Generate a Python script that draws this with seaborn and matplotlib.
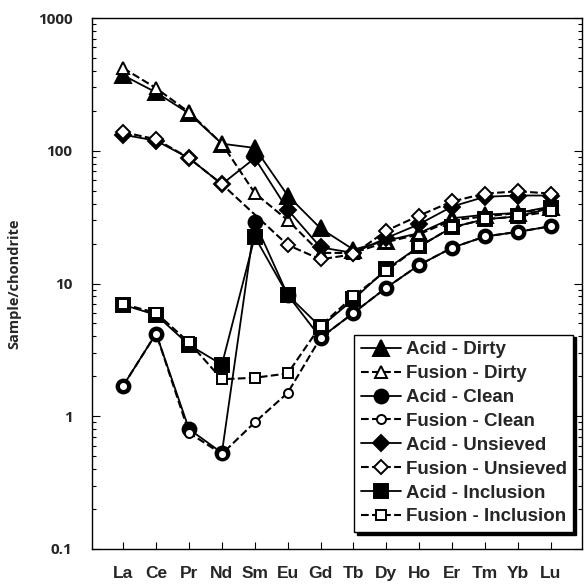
import numpy as np
import pandas as pd
import matplotlib
matplotlib.use("Agg")
import matplotlib.pyplot as plt
import seaborn as sns
from matplotlib.ticker import LogLocator, FixedLocator, NullFormatter

elements = ["La", "Ce", "Pr", "Nd", "Sm", "Eu", "Gd", "Tb", "Dy", "Ho", "Er", "Tm", "Yb", "Lu"]

acid_dirty = [370, 275, 191, 113, 105, 46, 26, 18, 21, 24, 31, 33, 34, 38]
fusion_dirty = [419, 296, 195, 113, 48, 30, 17, 17, 20.5, 23.5, 30, 32, 34, 37]
acid_clean = [1.7, 4.2, 0.8, 0.53, 29, 8.2, 3.9, 6.0, 9.3, 13.8, 18.6, 22.6, 24.5, 27]
fusion_clean = [1.7, 4.2, 0.75, 0.52, 0.9, 1.5, 3.9, 6.0, 9.3, 13.8, 18.6, 22.6, 24.5, 27]
acid_unsieved = [132, 119, 88, 56, 88, 36, 18.7, 17, 22, 28, 38, 45, 46, 46]
fusion_unsieved = [138, 122, 88, 56, np.nan, 19.5, 15.2, 16.6, 25, 32.5, 41.5, 47.6, 49.5, 47.6]
acid_inclusion = [6.9, 5.8, 3.45, 2.45, 22.5, 8.2, 4.7, 7.6, 12.8, 19, 26.5, 30.5, 32, 37]
fusion_inclusion = [7.0, 6.0, 3.6, 1.9, 1.95, 2.1, 4.8, 8.0, 12.5, 19, 26.5, 30.5, 32, 35]

series_labels = ["Acid - Dirty", "Fusion - Dirty", "Acid - Clean", "Fusion - Clean",
                 "Acid - Unsieved", "Fusion - Unsieved", "Acid - Inclusion", "Fusion - Inclusion"]
series_values = [acid_dirty, fusion_dirty, acid_clean, fusion_clean,
                 acid_unsieved, fusion_unsieved, acid_inclusion, fusion_inclusion]
y_ticks = [0.1, 1, 10, 100, 1000]
y_ticklabels = ["0.1", "1", "10", "100", "1000"]

sns.set_theme(style="white")
plt.rcParams["font.family"] = ["Liberation Sans", "DejaVu Sans"]

styles = {
    "Acid - Dirty": dict(marker="^", ms=11, mfc="black", ls="-", lw=1.3),
    "Fusion - Dirty": dict(marker="^", ms=8, mfc="white", ls="--", lw=1.5),
    "Acid - Clean": dict(marker="o", ms=10, mfc="black", ls="-", lw=1.3),
    "Fusion - Clean": dict(marker="o", ms=6.5, mfc="white", ls="--", lw=1.5),
    "Acid - Unsieved": dict(marker="D", ms=8.5, mfc="black", ls="-", lw=1.3),
    "Fusion - Unsieved": dict(marker="D", ms=7, mfc="white", ls="--", lw=1.5),
    "Acid - Inclusion": dict(marker="s", ms=10, mfc="black", ls="-", lw=1.3),
    "Fusion - Inclusion": dict(marker="s", ms=7, mfc="white", ls="--", lw=1.5),
}

fig = plt.figure(figsize=(5.84, 5.88), dpi=100)
ax = fig.add_axes([92 / 584, 39 / 588, 490 / 584, 531 / 588])

pos = np.arange(len(elements))
for lab, vals in zip(series_labels, series_values):
    df = pd.DataFrame({"pos": pos, "val": vals}).dropna()
    st = styles[lab]
    sns.lineplot(data=df, x="pos", y="val", ax=ax, color="black", label=lab,
                 marker=st["marker"], markersize=st["ms"], markerfacecolor=st["mfc"],
                 markeredgecolor="black", markeredgewidth=1.4,
                 linestyle=st["ls"], linewidth=st["lw"], sort=False)

ax.set_yscale("log")
ax.set_ylim(0.1, 1000)
ax.set_xlim(-0.95, 13.95)
ax.yaxis.set_major_locator(FixedLocator(y_ticks))
ax.set_yticklabels(y_ticklabels, fontsize=11, fontweight="bold",
                   family=["Open Sans", "DejaVu Sans"])
ax.yaxis.set_minor_locator(LogLocator(base=10, subs=np.arange(2, 10)))
ax.yaxis.set_minor_formatter(NullFormatter())
ax.set_xticks(pos)
ax.set_xticklabels(elements, fontsize=12.5, fontweight="bold")
ax.tick_params(axis="both", which="both", direction="in", color="black", width=0.8)
ax.tick_params(axis="y", which="major", length=6, left=True, right=True, pad=14)
ax.tick_params(axis="y", which="minor", length=3, left=True, right=True)
ax.tick_params(axis="x", which="major", length=5, bottom=True, top=False, pad=12)
ax.set_xlabel("")
ax.set_ylabel("Sample/chondrite", fontsize=10.5, fontweight="bold",
              family=["Open Sans", "DejaVu Sans"], labelpad=12)
for sp in ax.spines.values():
    sp.set_color("black")
    sp.set_linewidth(1.0)
    sp.set_visible(True)

leg = ax.legend(loc="lower right", bbox_to_anchor=(0.982, 0.032), borderaxespad=0.0,
                prop={"size": 13.5, "weight": "bold", "family": ["Liberation Sans", "DejaVu Sans"]},
                frameon=True, fancybox=False, edgecolor="black", handlelength=2.15,
                handletextpad=0.25, labelspacing=0.36, borderpad=0.35,
                shadow={"color": "black", "alpha": 1.0})
leg.get_frame().set_linewidth(1.0)

fig.savefig("out.png", dpi=100, facecolor="white")
